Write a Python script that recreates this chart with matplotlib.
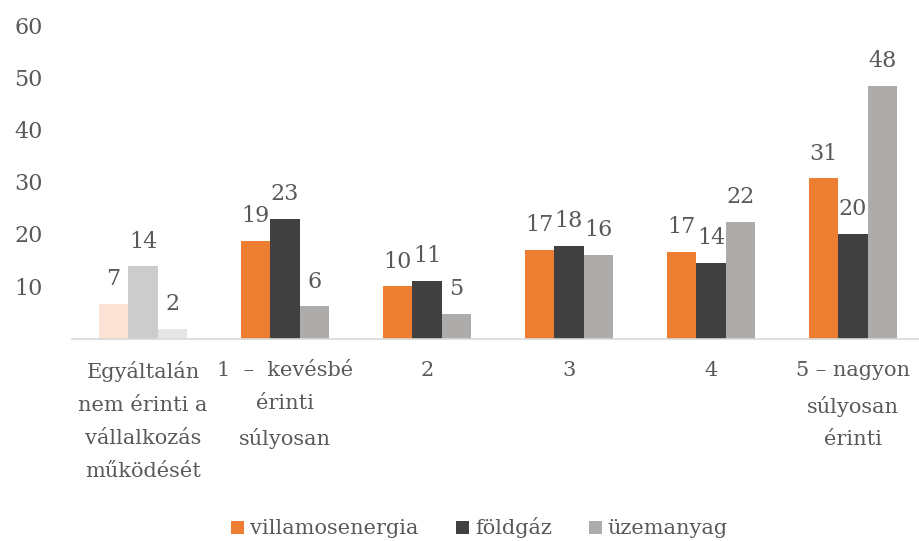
import numpy as np
import matplotlib.pyplot as plt

categories = ['Egyáltalán\nnem érinti a\nvállalkozás\nműködését',
              '1  –  kevésbé\nérinti\nsúlyosan',
              '2', '3', '4',
              '5 – nagyon\nsúlyosan\nérinti']
villamosenergia = [6.6, 18.7, 10.0, 17.0, 16.6, 30.7]
foldgaz = [13.8, 22.9, 11.0, 17.7, 14.5, 20.0]
uzemanyag = [1.9, 6.2, 4.7, 16.0, 22.3, 48.4]
series_names = ['villamosenergia', 'földgáz', 'üzemanyag']

colors = ['#ED7D31', '#404040', '#AEABAB']
faded = ['#FBE4D6', '#CDCCCC', '#E6E6E6']   # first group is drawn washed out
txt = '#595959'

plt.rcParams['font.family'] = ['DejaVu Serif']
fig = plt.figure(figsize=(9.19, 5.41), dpi=100)
ax = fig.add_axes([72 / 919, 1 - 338.5 / 541, (919 - 72) / 919, (338.5 - 25) / 541])

x = np.arange(len(categories))
w = 0.207
data = [villamosenergia, foldgaz, uzemanyag]
for i, vals in enumerate(data):
    cols = [faded[i]] + [colors[i]] * (len(vals) - 1)
    ax.bar(x + (i - 1) * w, vals, w, color=cols, label=series_names[i])
    for xb, v in zip(x + (i - 1) * w, vals):
        ax.text(xb, v + 2.6, f'{v:.0f}', ha='center', va='bottom',
                fontsize=16, color=txt)

ax.set_xlim(-0.5, 5.465)
ax.set_ylim(0, 60)
ax.set_yticks([10, 20, 30, 40, 50, 60])
ax.tick_params(axis='y', length=0, pad=21, labelsize=16, labelcolor=txt)
ax.set_xticks(x)
ax.set_xticklabels(categories, linespacing=1.93)
ax.tick_params(axis='x', length=0, pad=16, labelsize=15, labelcolor=txt)
for s in ['top', 'right', 'left']:
    ax.spines[s].set_visible(False)
ax.spines['bottom'].set_color('#D9D9D9')
ax.spines['bottom'].set_linewidth(1.2)

leg = fig.legend(loc='lower center', ncol=3, frameon=False, bbox_to_anchor=(0.522, -0.03),
                 fontsize=15, handlelength=0.6, handleheight=0.6, handletextpad=0.3,
                 columnspacing=1.8)
for t in leg.get_texts():
    t.set_color(txt)
# legend patches should use the normal (not faded) colours
for h, c in zip(leg.legend_handles, colors):
    h.set_facecolor(c)

fig.savefig('out.png', dpi=100)
